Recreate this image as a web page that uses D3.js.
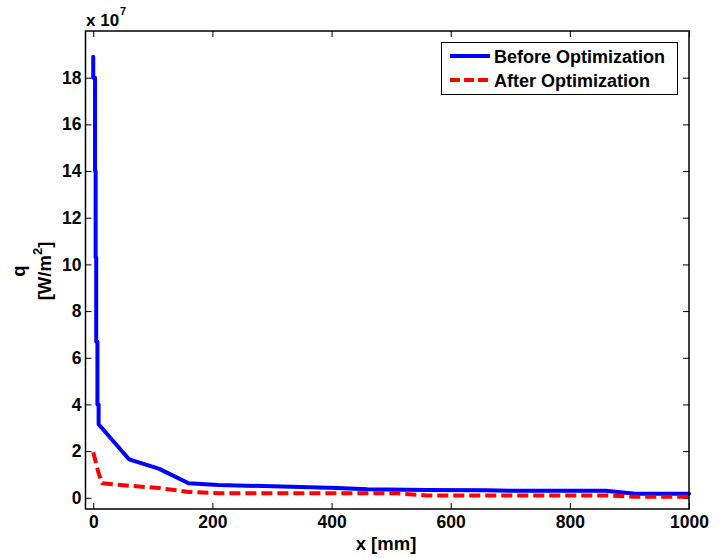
<!DOCTYPE html>
<html>
<head>
<meta charset="utf-8">
<script src="https://cdn.jsdelivr.net/npm/d3@7/dist/d3.min.js"></script>
<style>
  html, body { margin: 0; padding: 0; background: #fff; }
  svg { display: block; }
  text { font-family: "Liberation Sans", Arial, sans-serif; font-weight: bold; fill: #000; }
</style>
</head>
<body>
<script>
// Values in units of 1e7 W/m^2
const xBefore = [0, 0, 3, 3, 4, 4, 5, 5, 7, 7, 9, 9, 60, 110, 160, 210, 410, 460, 560, 660, 710, 860, 910, 1000];
const yBefore = [18.9, 18.0, 18.0, 14.0, 14.0, 10.3, 10.3, 6.7, 6.7, 4.0, 4.0, 3.15, 1.65, 1.25, 0.62, 0.55, 0.42, 0.37, 0.33, 0.32, 0.30, 0.30, 0.17, 0.17];
const xAfter = [0, 9, 15, 60, 110, 160, 210, 410, 510, 560, 860, 910, 1000];
const yAfter = [1.95, 1.05, 0.62, 0.52, 0.42, 0.25, 0.20, 0.19, 0.19, 0.10, 0.10, 0.05, 0.05];
const xTicks = [0, 200, 400, 600, 800, 1000];
const yTicks = [0, 2, 4, 6, 8, 10, 12, 14, 16, 18];
const seriesNames = ["Before Optimization", "After Optimization"];

const W = 725, H = 558;
const L = 85.5, R = 689, T = 31, B = 509;
const FONT = "'Liberation Sans', Arial, sans-serif";

const svg = d3.select("body").append("svg").attr("width", W).attr("height", H);
svg.append("rect").attr("width", W).attr("height", H).attr("fill", "#fff");

const x = d3.scaleLinear().domain([-13, 1000]).range([L, R]);
const y = d3.scaleLinear().domain([-0.48, 20]).range([B, T]);

const tickLen = 6;
const gx = svg.append("g").attr("transform", `translate(0,${B})`)
  .call(d3.axisBottom(x).tickValues(xTicks).tickSize(-tickLen).tickPadding(7).tickFormat(d3.format("d")));
const gxt = svg.append("g").attr("transform", `translate(0,${T})`)
  .call(d3.axisTop(x).tickValues(xTicks).tickSize(-tickLen).tickFormat(""));
const gy = svg.append("g").attr("transform", `translate(${L},0)`)
  .call(d3.axisLeft(y).tickValues(yTicks).tickSize(-tickLen).tickPadding(4).tickFormat(d3.format("d")));
const gyr = svg.append("g").attr("transform", `translate(${R},0)`)
  .call(d3.axisRight(y).tickValues(yTicks).tickSize(-tickLen).tickFormat(""));

[gx, gxt, gy, gyr].forEach(g => {
  g.select(".domain").remove();
  g.selectAll(".tick line").attr("stroke", "#000").attr("stroke-width", 1);
  g.selectAll(".tick text").style("font-size", "17.5px").style("font-family", FONT).style("font-weight", "bold").attr("fill", "#000");
});
gx.selectAll(".tick text").attr("dy", "0.71em");

const before = xBefore.map((v, i) => [v, yBefore[i]]);
const after = xAfter.map((v, i) => [v, yAfter[i]]);
const line = d3.line().x(d => x(d[0])).y(d => y(d[1]));

svg.append("path").datum(before).attr("d", line)
  .attr("fill", "none").attr("stroke", "#0000ff").attr("stroke-width", 4)
  .attr("stroke-linejoin", "round").attr("stroke-linecap", "round");
svg.append("path").datum(after).attr("d", line)
  .attr("fill", "none").attr("stroke", "#ff0000").attr("stroke-width", 4)
  .attr("stroke-dasharray", "11,5").attr("stroke-linejoin", "round");

svg.append("rect").attr("x", L).attr("y", T).attr("width", R - L).attr("height", B - T)
  .attr("fill", "none").attr("stroke", "#000").attr("stroke-width", 1.5);

// exponent label
const ex = svg.append("text").attr("x", 86).attr("y", 26).style("font-size", "17px");
ex.append("tspan").text("x 10");
ex.append("tspan").attr("dy", -11).attr("dx", 1).style("font-size", "11px").text("7");

// axis labels
svg.append("text").attr("x", 386).attr("y", 550).attr("text-anchor", "middle")
  .style("font-size", "18.5px").text("x [mm]");
const yl = svg.append("g").attr("transform", "translate(0,271) rotate(-90)");
yl.append("text").attr("x", 0).attr("y", 25).attr("text-anchor", "middle").style("font-size", "18.5px").text("q");
const yl2 = yl.append("text").attr("x", 0).attr("y", 51).attr("text-anchor", "middle").style("font-size", "18.5px");
yl2.append("tspan").text("[W/m");
yl2.append("tspan").attr("dy", -9).style("font-size", "13px").text("2");
yl2.append("tspan").attr("dy", 9).text("]");

// legend
const lg = svg.append("g");
lg.append("rect").attr("x", 441.5).attr("y", 42.5).attr("width", 236).attr("height", 52)
  .attr("fill", "#fff").attr("stroke", "#000").attr("stroke-width", 1);
const lgColors = ["#0000ff", "#ff0000"];
const lgDash = [null, "10,4"];
seriesNames.forEach((name, i) => {
  const yy = 56 + i * 24;
  lg.append("line").attr("x1", 450).attr("x2", 490).attr("y1", yy).attr("y2", yy)
    .attr("stroke", lgColors[i]).attr("stroke-width", 4)
    .attr("stroke-dasharray", lgDash[i]);
  lg.append("text").attr("x", 494).attr("y", yy + 6.5).style("font-size", "18px").text(name);
});
</script>
</body>
</html>
